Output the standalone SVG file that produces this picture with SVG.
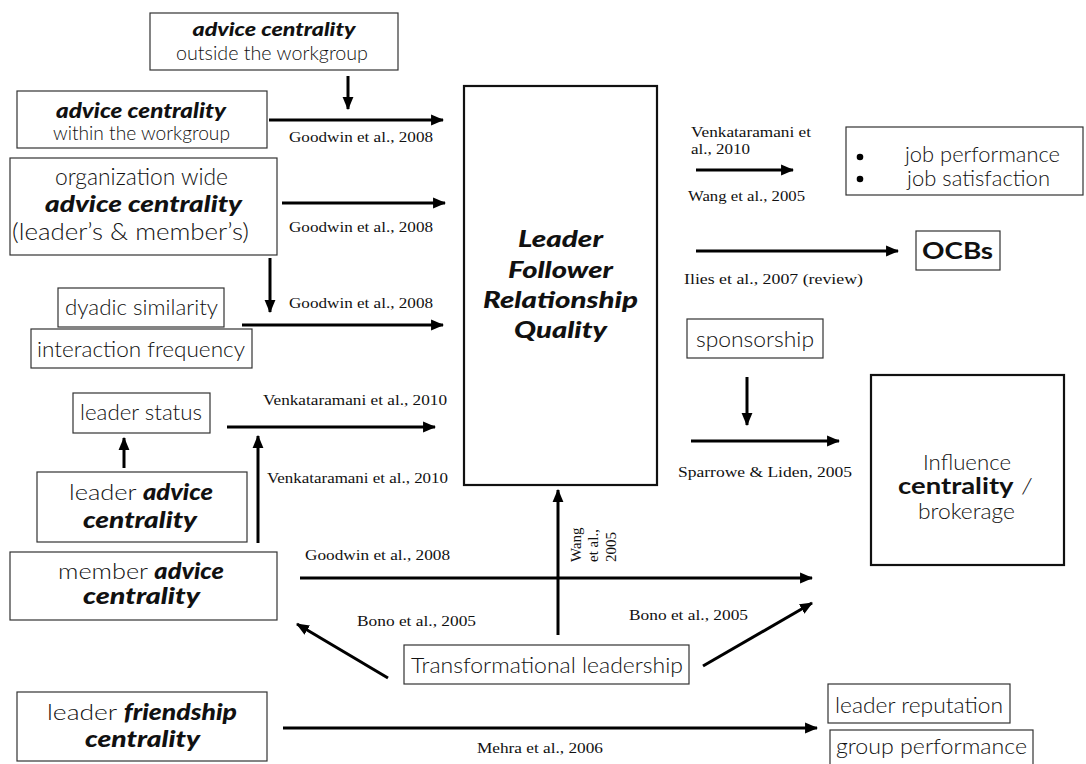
<svg xmlns="http://www.w3.org/2000/svg" width="1086" height="764" viewBox="0 0 1086 764">
  <style>
    .box { fill: #fff; stroke: #333; stroke-width: 1.2; }
    .bigbox { fill: #fff; stroke: #111; stroke-width: 2.2; }
    .t { font-family: Lato, "Open Sans", "Liberation Sans", sans-serif; font-weight: 300; fill: #111; text-anchor: middle; }
    .hv { font-weight: 900; font-style: italic; }
    .bd { font-weight: 700; }
    .cite { font-family: "Liberation Serif", "Times New Roman", serif; font-size: 15px; fill: #111; }
    .arr { stroke: #000; stroke-width: 3; fill: none; marker-end: url(#head); }
  </style>
  <defs>
    <marker id="head" viewBox="0 0 12 10" refX="11" refY="5" markerWidth="13" markerHeight="12" markerUnits="userSpaceOnUse" orient="auto">
      <path d="M0,0 L12,5 L0,10 z" fill="#000"/>
    </marker>
  </defs>
  <rect width="1086" height="764" fill="#fff"/>

  <!-- nodes -->
  <g id="advice-outside">
    <rect class="box" x="150" y="13" width="248" height="57"/>
    <text class="t hv" x="274" y="36" font-size="19" textLength="163" lengthAdjust="spacingAndGlyphs">advice centrality</text>
    <text class="t" x="272" y="60" font-size="20" textLength="192" lengthAdjust="spacingAndGlyphs">outside the workgroup</text>
  </g>
  <g id="advice-within">
    <rect class="box" x="17" y="91" width="250" height="57"/>
    <text class="t hv" x="141" y="118" font-size="20" textLength="170" lengthAdjust="spacingAndGlyphs">advice centrality</text>
    <text class="t" x="141.5" y="140" font-size="20" textLength="177" lengthAdjust="spacingAndGlyphs">within the workgroup</text>
  </g>
  <g id="advice-org">
    <rect class="box" x="10" y="158" width="267" height="97"/>
    <text class="t" x="141.5" y="185" font-size="23" textLength="173" lengthAdjust="spacingAndGlyphs">organization wide</text>
    <text class="t hv" x="143.5" y="212" font-size="23" textLength="197" lengthAdjust="spacingAndGlyphs">advice centrality</text>
    <text class="t" x="130.5" y="240" font-size="23" textLength="237" lengthAdjust="spacingAndGlyphs">(leader’s &amp; member’s)</text>
  </g>
  <g id="dyadic">
    <rect class="box" x="58" y="288" width="166" height="39"/>
    <text class="t" x="141.5" y="315" font-size="22" textLength="153" lengthAdjust="spacingAndGlyphs">dyadic similarity</text>
  </g>
  <g id="interaction">
    <rect class="box" x="31" y="329" width="221" height="39"/>
    <text class="t" x="141" y="357" font-size="22" textLength="208" lengthAdjust="spacingAndGlyphs">interaction frequency</text>
  </g>
  <g id="leader-status">
    <rect class="box" x="73" y="393" width="137" height="40"/>
    <text class="t" x="141" y="420" font-size="22" textLength="122" lengthAdjust="spacingAndGlyphs">leader status</text>
  </g>
  <g id="leader-advice">
    <rect class="box" x="37" y="472" width="210" height="70"/>
    <text class="t" x="141" y="500" font-size="22" textLength="144" lengthAdjust="spacingAndGlyphs">leader <tspan class="hv">advice</tspan></text>
    <text class="t hv" x="140" y="528" font-size="22" textLength="114" lengthAdjust="spacingAndGlyphs">centrality</text>
  </g>
  <g id="member-advice">
    <rect class="box" x="10" y="552" width="267" height="68"/>
    <text class="t" x="141" y="579" font-size="22" textLength="166" lengthAdjust="spacingAndGlyphs">member <tspan class="hv">advice</tspan></text>
    <text class="t hv" x="141.5" y="604" font-size="22" textLength="117" lengthAdjust="spacingAndGlyphs">centrality</text>
  </g>
  <g id="leader-friendship">
    <rect class="box" x="17" y="692" width="250" height="69"/>
    <text class="t" x="142" y="720" font-size="22" textLength="190" lengthAdjust="spacingAndGlyphs">leader <tspan class="hv">friendship</tspan></text>
    <text class="t hv" x="142.5" y="747" font-size="22" textLength="115" lengthAdjust="spacingAndGlyphs">centrality</text>
  </g>
  <g id="lfrq">
    <rect class="bigbox" x="464" y="86" width="193" height="399"/>
    <text class="t hv" x="560.5" y="247" font-size="23" textLength="85" lengthAdjust="spacingAndGlyphs">Leader</text>
    <text class="t hv" x="560.5" y="278" font-size="23" textLength="105" lengthAdjust="spacingAndGlyphs">Follower</text>
    <text class="t hv" x="560.5" y="308" font-size="23" textLength="155" lengthAdjust="spacingAndGlyphs">Relationship</text>
    <text class="t hv" x="560.5" y="338" font-size="23" textLength="93" lengthAdjust="spacingAndGlyphs">Quality</text>
  </g>
  <g id="job-outcomes">
    <rect class="box" x="846" y="127" width="237" height="68"/>
    <circle cx="860" cy="157" r="3.3" fill="#000"/>
    <circle cx="860" cy="179" r="3.3" fill="#000"/>
    <text class="t" x="982.5" y="162" font-size="21" textLength="155" lengthAdjust="spacingAndGlyphs">job performance</text>
    <text class="t" x="978.5" y="186" font-size="21" textLength="143" lengthAdjust="spacingAndGlyphs">job satisfaction</text>
  </g>
  <g id="ocbs">
    <rect class="box" x="916" y="231" width="84" height="39"/>
    <text class="t bd" x="957.5" y="259" font-size="22" textLength="71" lengthAdjust="spacingAndGlyphs">OCBs</text>
  </g>
  <g id="sponsorship">
    <rect class="box" x="687" y="319" width="136" height="39"/>
    <text class="t" x="755" y="347" font-size="22" textLength="118" lengthAdjust="spacingAndGlyphs">sponsorship</text>
  </g>
  <g id="influence">
    <rect class="bigbox" x="871" y="375" width="193" height="190"/>
    <text class="t" x="967" y="470" font-size="22" textLength="88" lengthAdjust="spacingAndGlyphs">Influence</text>
    <text class="t" x="965.5" y="494" font-size="22" textLength="135" lengthAdjust="spacingAndGlyphs"><tspan class="bd">centrality</tspan> /</text>
    <text class="t" x="966.5" y="519" font-size="22" textLength="97" lengthAdjust="spacingAndGlyphs">brokerage</text>
  </g>
  <g id="transformational">
    <rect class="box" x="404" y="645" width="285" height="39"/>
    <text class="t" x="547" y="673" font-size="22" textLength="272" lengthAdjust="spacingAndGlyphs">Transformational leadership</text>
  </g>
  <g id="leader-reputation">
    <rect class="box" x="828" y="684" width="182" height="39"/>
    <text class="t" x="919" y="713" font-size="22" textLength="168" lengthAdjust="spacingAndGlyphs">leader reputation</text>
  </g>
  <g id="group-performance">
    <rect class="box" x="830" y="730" width="203" height="42"/>
    <text class="t" x="931.5" y="754" font-size="22" textLength="191" lengthAdjust="spacingAndGlyphs">group performance</text>
  </g>

  <!-- connectors -->
  <g id="connectors">
    <line class="arr" x1="348" y1="76" x2="348" y2="109"/>
    <line class="arr" x1="269" y1="120" x2="443" y2="120"/>
    <line class="arr" x1="282" y1="203" x2="445" y2="203"/>
    <line class="arr" x1="270" y1="258" x2="270" y2="312"/>
    <line class="arr" x1="242" y1="325" x2="443" y2="325"/>
    <line class="arr" x1="227" y1="427" x2="435" y2="427"/>
    <line class="arr" x1="124" y1="468" x2="124" y2="438"/>
    <line class="arr" x1="258" y1="543" x2="258" y2="436"/>
    <line class="arr" x1="300" y1="578" x2="812" y2="578"/>
    <line class="arr" x1="558" y1="635" x2="558" y2="490"/>
    <line class="arr" x1="388" y1="678" x2="297" y2="624"/>
    <line class="arr" x1="703" y1="666" x2="812" y2="603"/>
    <line class="arr" x1="283" y1="728" x2="817" y2="728"/>
    <line class="arr" x1="696" y1="170" x2="793" y2="170"/>
    <line class="arr" x1="696" y1="251" x2="898" y2="251"/>
    <line class="arr" x1="747" y1="377" x2="747" y2="425"/>
    <line class="arr" x1="691" y1="441" x2="839" y2="441"/>
  </g>

  <!-- citation labels -->
  <g id="citations">
    <text class="cite" x="289" y="142" textLength="144" lengthAdjust="spacingAndGlyphs">Goodwin et al., 2008</text>
    <text class="cite" x="289" y="232" textLength="144" lengthAdjust="spacingAndGlyphs">Goodwin et al., 2008</text>
    <text class="cite" x="289" y="308" textLength="144" lengthAdjust="spacingAndGlyphs">Goodwin et al., 2008</text>
    <text class="cite" x="263" y="405" textLength="184" lengthAdjust="spacingAndGlyphs">Venkataramani et al., 2010</text>
    <text class="cite" x="267" y="483" textLength="181" lengthAdjust="spacingAndGlyphs">Venkataramani et al., 2010</text>
    <text class="cite" x="305" y="560" textLength="145" lengthAdjust="spacingAndGlyphs">Goodwin et al., 2008</text>
    <text class="cite" x="357" y="626" textLength="119" lengthAdjust="spacingAndGlyphs">Bono et al., 2005</text>
    <text class="cite" x="629" y="620" textLength="119" lengthAdjust="spacingAndGlyphs">Bono et al., 2005</text>
    <text class="cite" x="477" y="753" textLength="126" lengthAdjust="spacingAndGlyphs">Mehra et al., 2006</text>
    <text class="cite" x="691" y="137" textLength="120" lengthAdjust="spacingAndGlyphs">Venkataramani et</text>
    <text class="cite" x="691" y="154" textLength="59" lengthAdjust="spacingAndGlyphs">al., 2010</text>
    <text class="cite" x="688" y="201" textLength="117" lengthAdjust="spacingAndGlyphs">Wang et al., 2005</text>
    <text class="cite" x="684" y="284" textLength="179" lengthAdjust="spacingAndGlyphs">Ilies et al., 2007 (review)</text>
    <text class="cite" x="678" y="477" textLength="174" lengthAdjust="spacingAndGlyphs">Sparrowe &amp; Liden, 2005</text>
    <g transform="translate(0,562) rotate(-90)">
      <text class="cite" x="0" y="581">Wang</text>
      <text class="cite" x="0" y="598">et al.,</text>
      <text class="cite" x="0" y="616">2005</text>
    </g>
  </g>
</svg>
